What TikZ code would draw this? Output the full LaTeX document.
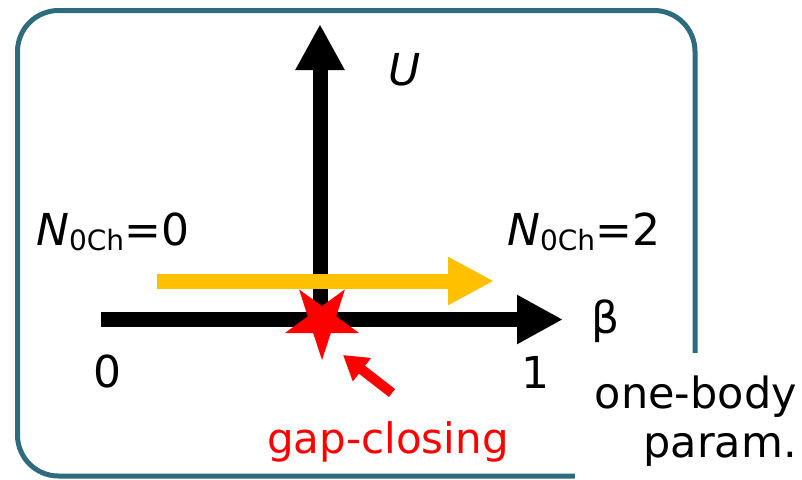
\documentclass[tikz,border=0pt]{standalone}
\usepackage{fontspec}
\setmainfont{DejaVu Sans}
\usetikzlibrary{arrows.meta}
\definecolor{frameteal}{RGB}{46,107,124}
\definecolor{arrowyellow}{RGB}{255,192,0}
\definecolor{starred}{RGB}{255,0,0}
\begin{document}
\begin{tikzpicture}[x=1pt,y=-1pt,
  axisline/.style={line width=15pt,-{Triangle[length=46pt,width=46pt]}},
  flowline/.style={line width=15pt,arrowyellow,-{Triangle[length=46pt,width=45pt]}},
  pointer/.style={line width=10pt,starred,-{Triangle[length=24pt,width=28pt]}},
  lbl/.style={inner sep=0pt,font=\fontsize{44}{44}\selectfont},
  sublbl/.style={inner sep=0pt,font=\fontsize{28}{28}\selectfont}
]
\useasboundingbox (0,0) rectangle (802,479);
% frame
\draw[frameteal,line width=5pt,rounded corners=41pt] (17.5,10.5) rectangle (695,476);
\fill[white] (575,353) rectangle (802,479);
% coordinates
\coordinate (origin) at (320,320);
\coordinate (utop) at (320,24);
\coordinate (bleft) at (101,319.5);
\coordinate (bright) at (563,319.5);
\coordinate (yl) at (157,281);
\coordinate (yr) at (494,281);
\coordinate (sc) at (322,321);
\coordinate (ptail) at (392,393);
\coordinate (ptip) at (343,355);
% axes
\draw[axisline] (origin) -- (utop);
\draw[axisline] (bleft) -- (bright);
\draw[flowline] (yl) -- (yr);
% star
\fill[starred] (sc) +(90:39) -- +(126:15) -- +(162:39) -- +(198:15) -- +(234:39) -- +(270:15) -- +(306:39) -- +(342:15) -- +(18:39) -- +(54:15) -- cycle;
\draw[pointer] (ptail) -- (ptip);
% labels
\node[lbl,anchor=center] (U) at (405,70) {\textit{U}};
\node[lbl,anchor=center] (beta) at (606,321) {β};
\node[lbl,anchor=center] (zero) at (107,371) {0};
\node[lbl,anchor=center] (one) at (535,372) {1};
\node[lbl,anchor=base west] (n0) at (36,245) {\textit{N}\raisebox{-5pt}{\fontsize{28}{28}\selectfont 0Ch}=0};
\node[lbl,anchor=base west] (n2) at (507,245) {\textit{N}\raisebox{-5pt}{\fontsize{28}{28}\selectfont 0Ch}=2};
\node[inner sep=0pt,font=\fontsize{42}{42}\selectfont,text=starred,anchor=base] (gap) at (388,453) {gap-closing};
\node[inner sep=0pt,font=\fontsize{43}{49}\selectfont,align=right,anchor=north east] (obp) at (797,376) {one-body\\param.};
\end{tikzpicture}
\end{document}
